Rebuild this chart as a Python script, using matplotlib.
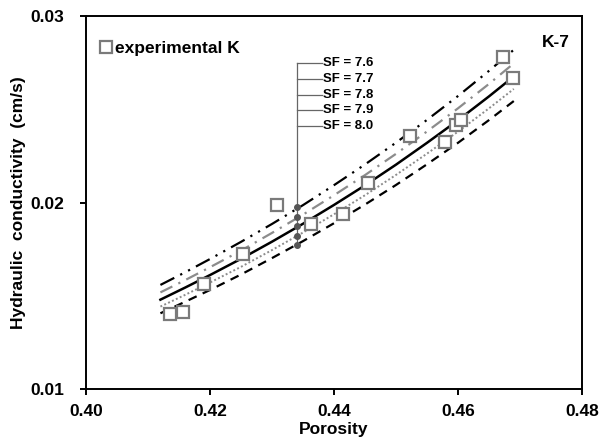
import matplotlib
matplotlib.use('Agg')
import matplotlib.pyplot as plt

plt.rcParams['font.family'] = ['Liberation Sans', 'DejaVu Sans']
plt.rcParams['font.weight'] = 'bold'

# experimental points
porosity_exp = [0.4135, 0.4157, 0.4190, 0.4253, 0.4308, 0.4363, 0.4415,
                0.4455, 0.4523, 0.4579, 0.4597, 0.4605, 0.4673, 0.4688]
k_exp = [0.01400, 0.01413, 0.01563, 0.01724, 0.01987, 0.01885, 0.01938,
         0.02105, 0.02357, 0.02324, 0.02415, 0.02440, 0.02780, 0.02665]

# predicted curves, one per shape factor
porosity_fit = [0.412, 0.416, 0.420, 0.425, 0.430, 0.435, 0.440,
                0.445, 0.450, 0.455, 0.460, 0.465, 0.469]
k_sf76 = [0.01558, 0.01626, 0.01697, 0.01789, 0.01885, 0.01986, 0.02093,
          0.02204, 0.02321, 0.02443, 0.02571, 0.02706, 0.02819]
k_sf77 = [0.01518, 0.01584, 0.01653, 0.01742, 0.01837, 0.01935, 0.02039,
          0.02147, 0.02261, 0.02381, 0.02505, 0.02636, 0.02746]
k_sf78 = [0.01479, 0.01544, 0.01611, 0.01698, 0.01790, 0.01886, 0.01987,
          0.02092, 0.02203, 0.02320, 0.02441, 0.02569, 0.02676]
k_sf79 = [0.01442, 0.01505, 0.01571, 0.01655, 0.01745, 0.01839, 0.01937,
          0.02039, 0.02148, 0.02262, 0.02380, 0.02505, 0.02609]
k_sf80 = [0.01406, 0.01468, 0.01531, 0.01614, 0.01702, 0.01793, 0.01889,
          0.01989, 0.02094, 0.02205, 0.02320, 0.02442, 0.02544]

sf_labels = ['SF = 7.6', 'SF = 7.7', 'SF = 7.8', 'SF = 7.9', 'SF = 8.0']
marker_porosity = 0.434
marker_k = [0.01975, 0.01920, 0.01872, 0.01822, 0.01774]

fig = plt.figure(figsize=(5.99, 4.41), dpi=100)
ax = fig.add_axes([0.1436, 0.1179, 0.828, 0.8458])

ax.plot(porosity_fit, k_sf76, color='black', lw=1.6, ls=(0, (7, 3, 1, 3, 1, 3)))
ax.plot(porosity_fit, k_sf77, color='#8c8c8c', lw=1.6, ls=(0, (6, 3, 1, 3)))
ax.plot(porosity_fit, k_sf78, color='black', lw=1.8, ls='-')
ax.plot(porosity_fit, k_sf79, color='#8c8c8c', lw=1.4, ls=(0, (1, 1.2)))
ax.plot(porosity_fit, k_sf80, color='black', lw=1.6, ls=(0, (4, 3)))

ax.plot(porosity_exp, k_exp, ls='none', marker='s', ms=8, mfc='white',
        mec='#7a7a7a', mew=1.6, label='experimental K', zorder=5)

# SF callout
label_y = [0.02748, 0.02662, 0.02576, 0.02496, 0.02410]
ax.plot([marker_porosity, marker_porosity], [label_y[0], marker_k[-1]],
        color='#666666', lw=0.9, zorder=3)
ax.plot([marker_porosity] * 5, marker_k, ls='none', marker='o', ms=4,
        color='#555555', zorder=4)
for yy, lab in zip(label_y, sf_labels):
    ax.plot([marker_porosity, 0.4381], [yy, yy], color='#666666', lw=0.9)
    ax.text(0.4383, yy, lab, fontsize=9.5, fontweight='bold', va='center', ha='left')

ax.text(0.976, 0.930, 'K-7', transform=ax.transAxes, ha='right', va='center',
        fontsize=12.5, fontweight='bold')

ax.legend(loc='upper left', bbox_to_anchor=(0.005, 0.96), frameon=False,
          handlelength=0.8, handletextpad=0.12, borderaxespad=0.2,
          prop={'weight': 'bold', 'size': 12.5})

ax.set_xlim(0.40, 0.48)
ax.set_ylim(0.01, 0.03)
ax.set_xticks([0.40, 0.42, 0.44, 0.46, 0.48])
ax.set_yticks([0.01, 0.02, 0.03])
ax.set_xticklabels(['0.40', '0.42', '0.44', '0.46', '0.48'])
ax.set_yticklabels(['0.01', '0.02', '0.03'])
ax.tick_params(direction='out', length=4, width=1.4, labelsize=12.5)
ax.tick_params(axis='x', pad=7)
ax.tick_params(axis='y', pad=12)
for lab in ax.get_xticklabels() + ax.get_yticklabels():
    lab.set_fontweight('bold')
for sp in ax.spines.values():
    sp.set_linewidth(1.4)

ax.set_xlabel('Porosity', fontsize=12.5, fontweight='bold')
ax.set_ylabel('Hydraulic  conductivity  (cm/s)', fontsize=12.5, fontweight='bold')
ax.xaxis.set_label_coords(0.5, -0.088)
ax.yaxis.set_label_coords(-0.12, 0.5)

fig.savefig('out.png', dpi=100)
